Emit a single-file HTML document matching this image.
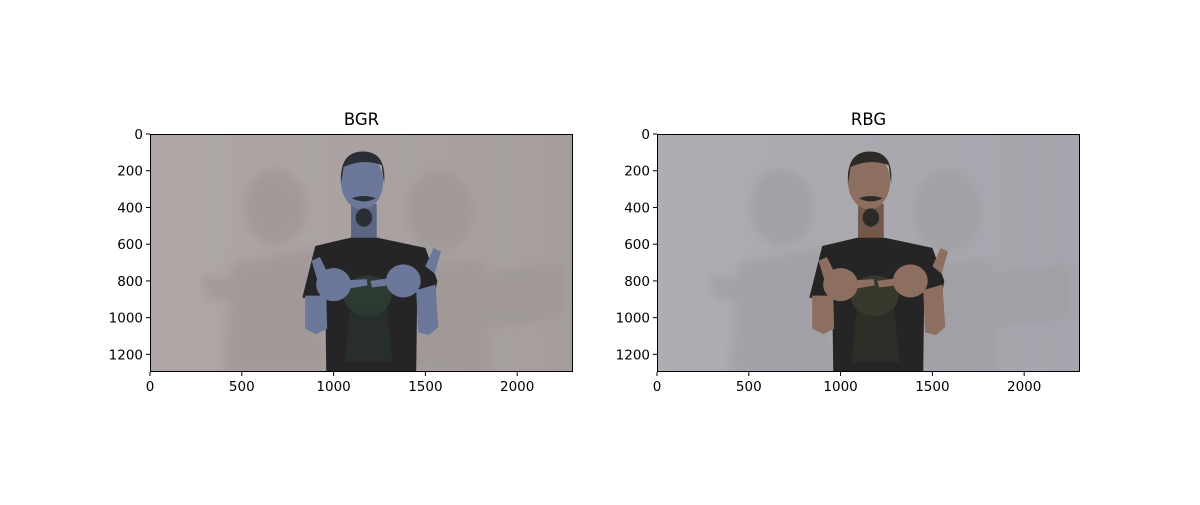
<!DOCTYPE html>
<html><head><meta charset="utf-8">
<style>
html,body{margin:0;padding:0;background:#fff;}
svg text{font-family:"DejaVu Sans","Liberation Sans",sans-serif;}
</style></head>
<body>
<svg id="fig" width="1200" height="500" viewBox="0 0 1200 500" xmlns="http://www.w3.org/2000/svg">
<rect width="1200" height="500" fill="#fff"/>
<defs>
  <clipPath id="clipImg"><rect x="0" y="0" width="2304" height="1296"/></clipPath>
  <filter id="blur" x="-20%" y="-20%" width="140%" height="140%"><feGaussianBlur stdDeviation="25"/></filter>
  <linearGradient id="g0" x1="0" x2="1" y1="0" y2="0"><stop offset="0" stop-color="#aea7a5"/><stop offset="1" stop-color="#a59e9d"/></linearGradient>
  <linearGradient id="g1" x1="0" x2="1" y1="0" y2="0"><stop offset="0" stop-color="#aeadb3"/><stop offset="1" stop-color="#a6a4ac"/></linearGradient>
</defs>
</svg>
<script>
const xTicks = [0, 500, 1000, 1500, 2000];
const yTicks = [0, 200, 400, 600, 800, 1000, 1200];
const imgWidth = 2304;
const imgHeight = 1296;
const panelTitles = ['BGR', 'RBG'];
const panelLeft = [150, 657];
const panelTop = 134, panelW = 423, panelH = 238;

const palettes = [
  {bg:'url(#g0)', shadow:'#9f9896', skin:'#6b7899', skinDark:'#5a6683', hair:'#2c2e35', shirt:'#252527', print:'#2d3a31'},
  {bg:'url(#g1)', shadow:'#a09fa6', skin:'#8c6f60', skinDark:'#74594b', hair:'#2e2a28', shirt:'#252525', print:'#37392c'}
];
const NS = 'http://www.w3.org/2000/svg';
const fig = document.getElementById('fig');
function mk(tag, attrs, parent){
  const e = document.createElementNS(NS, tag);
  for (const k in attrs) e.setAttribute(k, attrs[k]);
  parent.appendChild(e); return e;
}
panelTitles.forEach((t, i) => {
  const L = panelLeft[i];
  const sx = panelW / imgWidth, sy = panelH / imgHeight;
  const xs = v => L + v * sx, ys = v => panelTop + v * sy;
  const p = palettes[i];
  const g = mk('g', {}, fig);
  
  
  const img = mk('g', {transform: `translate(${L},${panelTop}) scale(${sx},${sy})`, 'clip-path':'url(#clipImg)'}, g);
  
  
  mk('rect', {x:0,y:0,width:2304,height:1296,fill:p.bg}, img);
  // shadows
  const sh = mk('g', {filter:'url(#blur)', fill:p.shadow, opacity:0.8}, img);
  mk('ellipse', {cx:680,cy:400,rx:170,ry:210}, sh);
  mk('path', {d:'M450 700 L900 620 L980 1296 L400 1296 Z'}, sh);
  mk('path', {d:'M280 780 L560 780 L600 920 L320 900 Z'}, sh);
  mk('ellipse', {cx:1580,cy:420,rx:180,ry:220}, sh);
  mk('path', {d:'M1380 700 L1820 690 L1860 1296 L1360 1296 Z'}, sh);
  mk('path', {d:'M1800 760 L2250 700 L2250 1000 L1850 1060 Z'}, sh);
  // neck
  mk('rect', {x:1095,y:380,width:140,height:220,fill:p.skinDark}, img);
  // head
  mk('ellipse', {cx:1155,cy:260,rx:115,ry:150,fill:p.skin}, img);
  mk('path', {d:'M1040 270 Q1030 95 1160 95 Q1290 95 1275 270 L1262 170 Q1160 130 1055 180 Z', fill:p.hair}, img);
  mk('ellipse', {cx:1165,cy:455,rx:45,ry:50,fill:p.hair}, img);
  mk('path', {d:'M1100 350 Q1165 325 1230 350 Q1165 385 1100 350 Z', fill:p.hair}, img);
  // shirt
  mk('path', {d:'M900 610 L1090 565 L1240 565 L1500 620 L1565 800 L1545 910 L1455 900 L1450 1296 L960 1296 L955 920 L830 890 Z', fill:p.shirt}, img);
  mk('ellipse', {cx:1185,cy:880,rx:130,ry:110,fill:p.print}, img);
  mk('path', {d:'M1090 940 L1290 940 L1320 1240 L1060 1240 Z', fill:p.print, opacity:0.45}, img);
  // arms
  mk('path', {d:'M845 880 L960 880 L965 1060 L905 1090 L845 1060 Z', fill:p.skin}, img);
  mk('path', {d:'M1450 850 L1555 820 L1570 1050 L1520 1095 L1460 1080 Z', fill:p.skin}, img);
  // hands
  mk('ellipse', {cx:1000,cy:820,rx:95,ry:90,fill:p.skin}, img);
  mk('path', {d:'M880 690 L925 670 L970 760 L910 790 Z', fill:p.skin}, img);
  mk('path', {d:'M1020 800 L1180 790 L1185 825 L1030 850 Z', fill:p.skin}, img);
  mk('ellipse', {cx:1380,cy:800,rx:95,ry:90,fill:p.skin}, img);
  mk('path', {d:'M1500 720 L1545 620 L1585 640 L1550 760 Z', fill:p.skin}, img);
  mk('path', {d:'M1200 800 L1340 780 L1345 820 L1210 835 Z', fill:p.skin}, img);
  // frame
  const fr = mk('rect', {x:L+0.5,y:panelTop+0.5,width:panelW-1,height:panelH-1,fill:'none',stroke:'#000','stroke-width':1}, g);
  
  
  const tt = mk('text', {x:L+panelW/2,y:panelTop-9,'text-anchor':'middle','font-size':16.5,fill:'#000'}, g);
  tt.textContent = t;
  
  
  xTicks.forEach(v => {
    const x = xs(v);
    mk('line', {x1:x,x2:x,y1:panelTop+panelH,y2:panelTop+panelH+4,stroke:'#000','stroke-width':1}, g);
    const tx = mk('text', {x:x,y:panelTop+panelH+19,'text-anchor':'middle','font-size':13.5,fill:'#000'}, g);
    tx.textContent = v;
    
    
  });
  yTicks.forEach(v => {
    const y = ys(v);
    mk('line', {x1:L-4,x2:L,y1:y,y2:y,stroke:'#000','stroke-width':1}, g);
    const ty = mk('text', {x:L-7,y:y+5,'text-anchor':'end','font-size':13.5,fill:'#000'}, g);
    ty.textContent = v;
    
    
  });
});
</script>
</body></html>
